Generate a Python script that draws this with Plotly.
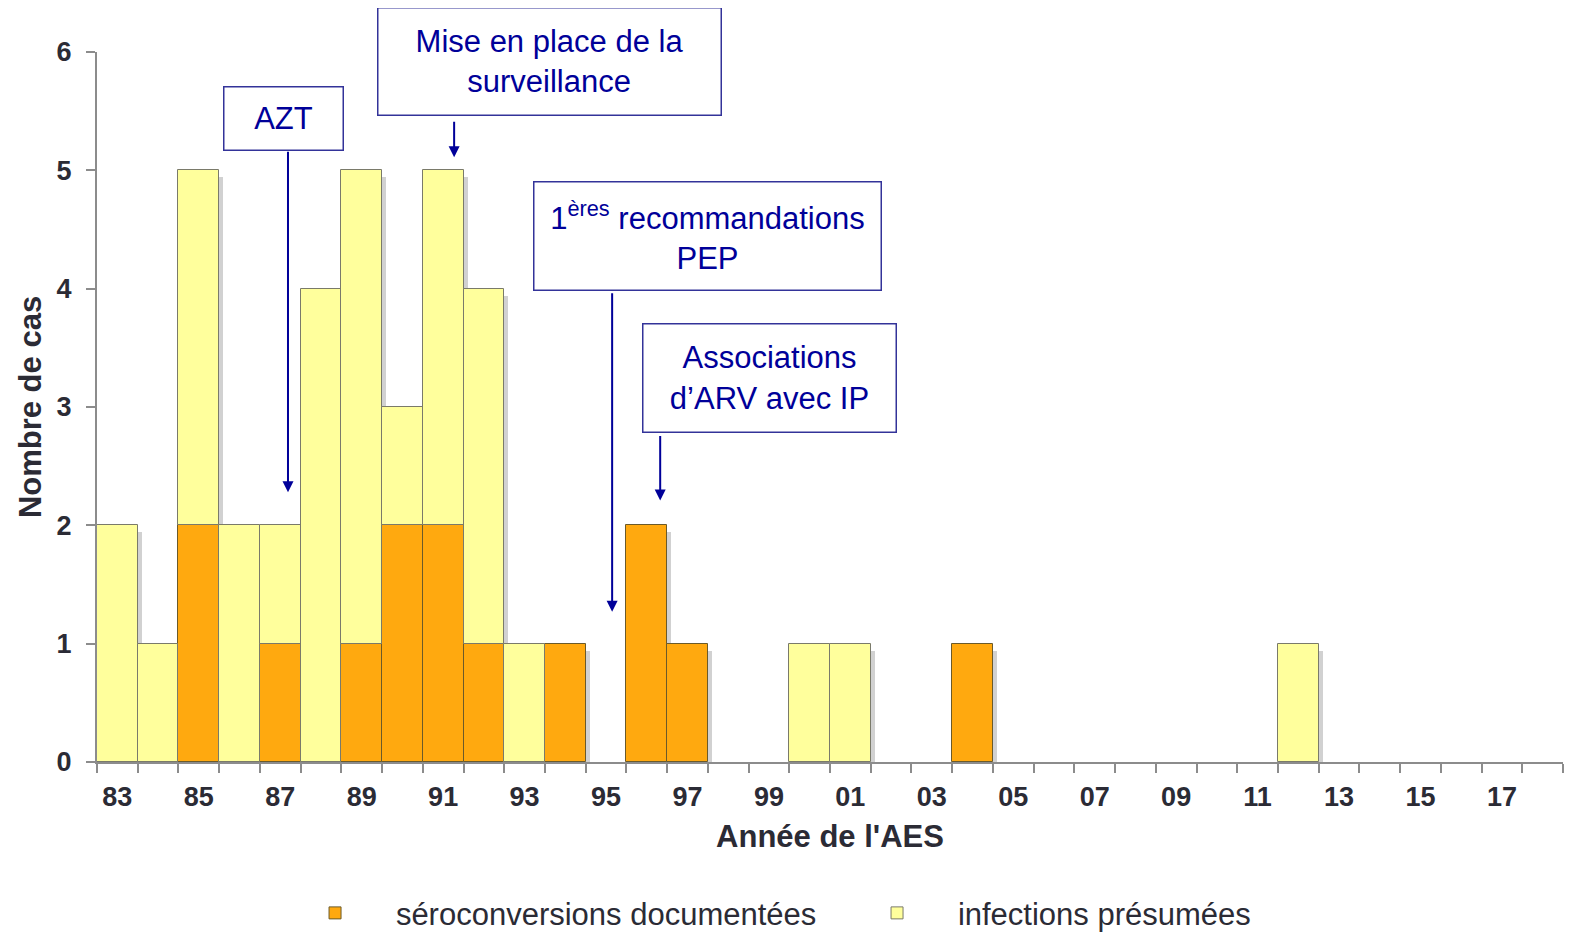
import plotly.graph_objects as go

# données
years = list(range(1983, 2019))
documentees = [0, 0, 2, 0, 1, 0, 1, 2, 2, 1, 0, 1, 0, 2, 1, 0, 0, 0, 0, 0, 0, 1,
               0, 0, 0, 0, 0, 0, 0, 0, 0, 0, 0, 0, 0, 0]
presumees = [2, 1, 3, 2, 1, 4, 4, 1, 3, 3, 1, 0, 0, 0, 0, 0, 0, 1, 1, 0, 0, 0,
             0, 0, 0, 0, 0, 0, 0, 1, 0, 0, 0, 0, 0, 0]
tick_years = years[::2]
tick_labels = [f"{y % 100:02d}" for y in tick_years]

ORANGE = "#FFA90F"
JAUNE = "#FFFF9C"
BLEU = "#000099"
GRIS = "#8c8c8c"
TXT = "#2b2b35"
SP = "\u00a0" * 3


def nz(vals):
    return [v if v else None for v in vals]


totaux = [d + p for d, p in zip(documentees, presumees)]

fig = go.Figure()
# ombre portée à droite des barres
fig.add_trace(go.Bar(
    x=years, y=nz(totaux), base=-0.06, width=1, offset=-0.4,
    marker=dict(color="rgba(90,90,90,0.28)", line=dict(width=0)),
    showlegend=False, hoverinfo="skip",
))
fig.add_trace(go.Bar(
    x=years, y=nz(documentees), name=SP + "séroconversions documentées",
    marker=dict(color=ORANGE, line=dict(color="#6b5a2a", width=1)),
    width=1, offset=-0.5,
))
fig.add_trace(go.Bar(
    x=years, y=nz(presumees), name=SP + "infections présumées",
    marker=dict(color=JAUNE, line=dict(color="#7a7a6a", width=1)),
    width=1, offset=-0.5, base=documentees,
))

# boîtes de texte (annotations)
boxes = [
    ("AZT", 0.1269, 0.907, 120, 64),
    ("Mise en place de la<br>surveillance", 0.309, 0.986, 344, 108),
    ("1<sup>ères</sup> recommandations<br>PEP", 0.4161, 0.7415, 348, 109),
    ("Associations<br>d’ARV avec IP", 0.459, 0.5415, 254, 109),
]
for txt, px_, py_, w, h in boxes:
    fig.add_annotation(
        text=txt, xref="paper", yref="paper", x=px_, y=py_,
        xanchor="center", yanchor="middle", showarrow=False,
        width=w - 2, height=h - 2, borderpad=0,
        bordercolor="#333399", borderwidth=1.5, bgcolor="white",
        font=dict(family="Liberation Sans Narrow, Arial, sans-serif", size=31, color=BLEU),
        align="center", valign="middle",
    )

# flèches
arrows = [(1987.19, 2.28, -342), (1991.27, 5.11, -37),
          (1995.15, 1.27, -320), (1996.33, 2.21, -66)]
for ax_x, ax_y, ay in arrows:
    fig.add_annotation(
        x=ax_x, y=ax_y, xref="x", yref="y", text="", showarrow=True,
        ax=0, ay=ay, arrowhead=2, arrowsize=1.1, arrowwidth=2, arrowcolor=BLEU,
    )

fig.update_layout(
    barmode="overlay",
    bargap=0,
    width=1585, height=944,
    margin=dict(l=89, r=30, t=44, b=190, autoexpand=False),
    plot_bgcolor="white", paper_bgcolor="white",
    font=dict(family="Arial, Liberation Sans, sans-serif", color=TXT),
    legend=dict(
        orientation="h", x=0.1385, xanchor="left", y=-0.213, yanchor="middle",
        font=dict(size=31, color=TXT), itemwidth=60, traceorder="normal",
        entrywidth=487, entrywidthmode="pixels",
    ),
    showlegend=True,
)
fig.update_xaxes(
    range=[1982.5, 2018.5], automargin=False,
    tickvals=tick_years, ticktext=tick_labels, ticks="", ticklen=0,
    ticklabelstandoff=10,
    tickfont=dict(size=27, family="Arial, Liberation Sans, sans-serif", color=TXT, weight="bold"),
    minor=dict(tick0=1982.5, dtick=1, ticks="outside", ticklen=9, tickcolor=GRIS, tickwidth=2),
    showline=True, linecolor=GRIS, linewidth=2, showgrid=False, zeroline=False,
    title=dict(text="<b>Année de l'AES</b>", font=dict(size=31, color=TXT), standoff=14),
)
fig.update_yaxes(
    range=[0, 6], dtick=1, automargin=False,
    ticks="outside", ticklen=9, tickcolor=GRIS, tickwidth=2, ticklabelstandoff=9,
    tickfont=dict(size=27, family="Arial, Liberation Sans, sans-serif", color=TXT, weight="bold"),
    showline=True, linecolor=GRIS, linewidth=2, showgrid=False, zeroline=False,
    title=dict(text="<b>Nombre de cas</b>", font=dict(size=31, color=TXT), standoff=6),
)

fig.write_html("out.html")
